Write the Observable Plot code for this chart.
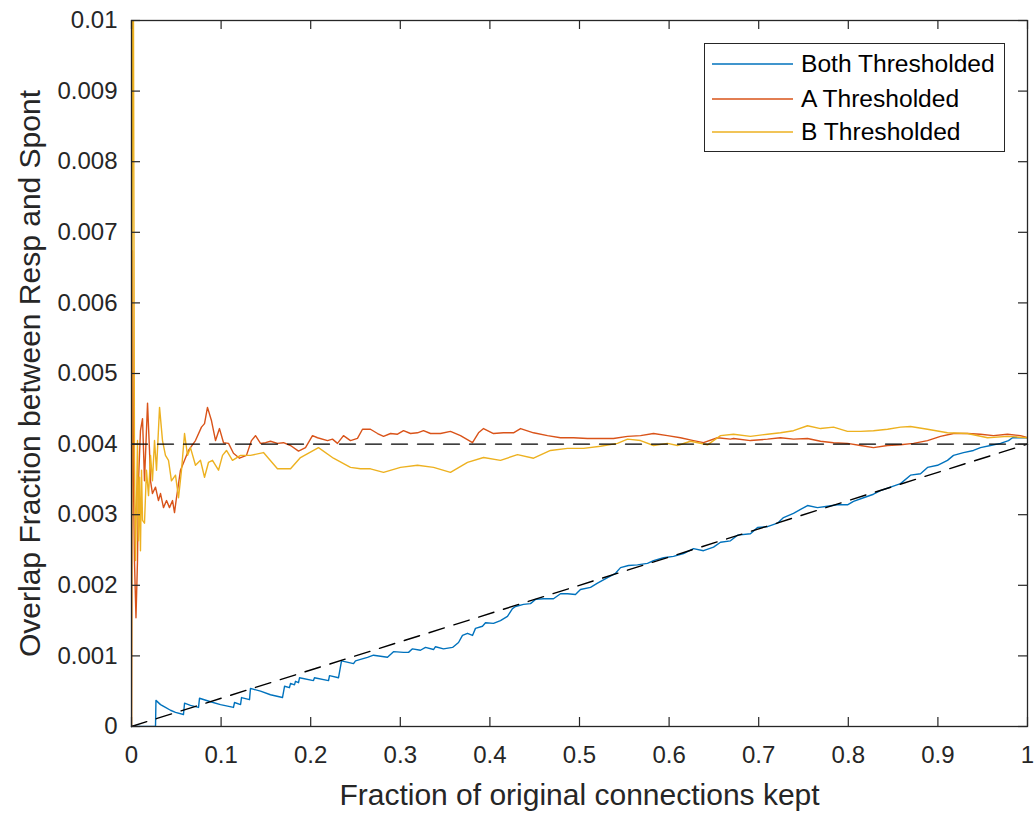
<!DOCTYPE html>
<html>
<head>
<meta charset="utf-8">
<script src="https://cdn.jsdelivr.net/npm/d3@7"></script>
<script src="https://cdn.jsdelivr.net/npm/@observablehq/plot@0.6"></script>
<style>
  html, body { margin: 0; padding: 0; background: #fff; }
  #wrap { position: relative; width: 1036px; height: 817px; font-family: "Liberation Sans", Arial, Helvetica, sans-serif; }
  #legend { position: absolute; left: 704px; top: 43px; width: 301px; height: 109px; border: 1px solid #262626; background: #fff; box-sizing: border-box; }
  .item { position: absolute; left: 7px; height: 30px; display: flex; align-items: center; font-size: 24.6px; color: #000; }
  .item svg { margin-right: 8px; }
</style>
</head>
<body>
<div id="wrap"></div>
<script>
// ---- data ----
const xTicks = [0, 0.1, 0.2, 0.3, 0.4, 0.5, 0.6, 0.7, 0.8, 0.9, 1];
const xTickLabels = ["0", "0.1", "0.2", "0.3", "0.4", "0.5", "0.6", "0.7", "0.8", "0.9", "1"];
const yTicks = [0, 0.001, 0.002, 0.003, 0.004, 0.005, 0.006, 0.007, 0.008, 0.009, 0.01];
const yTickLabels = ["0", "0.001", "0.002", "0.003", "0.004", "0.005", "0.006", "0.007", "0.008", "0.009", "0.01"];
const seriesNames = ["Both Thresholded", "A Thresholded", "B Thresholded"];
const seriesColors = ["#0072BD", "#D95319", "#EDB120"];
const xLabel = "Fraction of original connections kept";
const yLabel = "Overlap Fraction between Resp and Spont";

const refX = [0, 1];
const refFlat = [0.004, 0.004];
const refDiag = [0, 0.004];

const bothSeries = [
  [0,0],[0.0268,0],[0.0273,0.00037],[0.0324,0.00031],[0.0379,0.00027],[0.0435,0.00023],[0.0491,0.0002],[0.058,0.00017],
  [0.0592,0.00033],[0.0658,0.0003],[0.0748,0.00027],[0.0759,0.0004],[0.0882,0.00035],[0.0993,0.00031],[0.1138,0.00027],
  [0.115,0.00034],[0.1217,0.00031],[0.1228,0.00041],[0.1317,0.00038],[0.1328,0.00054],[0.144,0.0005],[0.1551,0.00045],
  [0.1685,0.00041],[0.1708,0.00057],[0.1763,0.00055],[0.1775,0.00061],[0.1819,0.00059],[0.183,0.00064],[0.1864,0.00062],
  [0.1875,0.00069],[0.2031,0.00065],[0.2042,0.00069],[0.2199,0.00065],[0.221,0.00072],[0.231,0.00069],[0.2344,0.00093],
  [0.2478,0.00089],[0.25,0.00093],[0.2556,0.00095],[0.2634,0.00098],[0.2701,0.00101],[0.2857,0.00098],[0.2924,0.00106],
  [0.3036,0.00105],[0.3092,0.00105],[0.3136,0.0011],[0.3225,0.00108],[0.3281,0.00112],[0.3371,0.00109],[0.3393,0.00113],
  [0.3482,0.0011],[0.3583,0.00112],[0.365,0.00119],[0.3694,0.00129],[0.375,0.00132],[0.3806,0.00129],[0.3839,0.00139],
  [0.3917,0.00142],[0.3951,0.00147],[0.404,0.00146],[0.4118,0.0015],[0.4196,0.00156],[0.4252,0.00167],[0.4286,0.0017],
  [0.4375,0.00173],[0.4453,0.00174],[0.4509,0.0018],[0.4598,0.00181],[0.471,0.00181],[0.4788,0.00188],[0.4866,0.00188],
  [0.4955,0.00187],[0.5011,0.00194],[0.5123,0.00197],[0.5201,0.00203],[0.5313,0.00211],[0.5402,0.00217],[0.5458,0.00225],
  [0.5547,0.00228],[0.5647,0.00229],[0.5759,0.00231],[0.5826,0.00235],[0.5938,0.00239],[0.6049,0.00241],[0.6161,0.00245],
  [0.6272,0.00252],[0.6384,0.00249],[0.6496,0.00254],[0.6574,0.00261],[0.6685,0.00263],[0.6763,0.00271],[0.6908,0.00273],
  [0.6987,0.00282],[0.7098,0.00283],[0.721,0.00288],[0.7277,0.00296],[0.7388,0.00302],[0.7545,0.00313],[0.7656,0.0031],
  [0.7768,0.00312],[0.7879,0.00314],[0.7991,0.00314],[0.8058,0.00319],[0.817,0.00324],[0.8281,0.00329],[0.8359,0.00334],
  [0.8471,0.00339],[0.8583,0.00344],[0.8694,0.00356],[0.8806,0.00358],[0.8884,0.00367],[0.8996,0.0037],[0.9107,0.00377],
  [0.9174,0.00384],[0.9286,0.00388],[0.9397,0.00391],[0.9475,0.00395],[0.9587,0.00398],[0.9699,0.00401],[0.9788,0.00405],
  [0.9833,0.00409],[0.9922,0.00409],[1.0,0.00409]
];

const aSeries = [
  [0,0],[0.0011,0.00674],[0.0022,0.00348],[0.0033,0.00235],[0.005,0.00154],[0.0067,0.00235],[0.0078,0.00348],[0.01,0.00419],
  [0.0123,0.00436],[0.0145,0.00348],[0.0179,0.00458],[0.0201,0.00391],[0.0212,0.00348],[0.0234,0.0033],[0.0268,0.00339],
  [0.0301,0.0032],[0.0324,0.0033],[0.0357,0.0031],[0.0391,0.0032],[0.0424,0.0031],[0.0458,0.0032],[0.048,0.00303],
  [0.0502,0.00324],[0.0525,0.00344],[0.0547,0.00363],[0.0592,0.00377],[0.0636,0.00391],[0.0714,0.00405],[0.0781,0.00424],
  [0.0815,0.00429],[0.0848,0.00452],[0.0893,0.00433],[0.0938,0.00405],[0.0982,0.00422],[0.1027,0.00402],[0.1083,0.00401],
  [0.1138,0.00387],[0.1205,0.0038],[0.1283,0.00384],[0.1339,0.00405],[0.1384,0.00412],[0.144,0.00401],[0.1496,0.00402],
  [0.1551,0.00404],[0.1629,0.00401],[0.1696,0.00402],[0.1775,0.00398],[0.1864,0.0039],[0.1942,0.00395],[0.202,0.00412],
  [0.2076,0.00409],[0.2188,0.00405],[0.2243,0.00407],[0.2299,0.00401],[0.2366,0.00412],[0.2444,0.00405],[0.2522,0.00408],
  [0.2578,0.00421],[0.2667,0.00421],[0.2746,0.00415],[0.2813,0.00411],[0.2891,0.00415],[0.2969,0.00414],[0.3036,0.00419],
  [0.3114,0.00415],[0.3192,0.00416],[0.3259,0.00419],[0.3337,0.00415],[0.3449,0.00415],[0.356,0.00418],[0.3672,0.00412],
  [0.3806,0.00402],[0.3873,0.00416],[0.3929,0.00422],[0.404,0.00415],[0.4152,0.00416],[0.4263,0.00416],[0.4342,0.00422],
  [0.4487,0.00416],[0.4643,0.00412],[0.4788,0.00409],[0.4933,0.00409],[0.5089,0.00408],[0.5234,0.00408],[0.5379,0.00408],
  [0.5536,0.00411],[0.5681,0.00412],[0.5826,0.00415],[0.5982,0.00412],[0.6127,0.00409],[0.6272,0.00405],[0.6384,0.00402],
  [0.654,0.00409],[0.6685,0.00407],[0.6719,0.00408],[0.6908,0.00405],[0.7098,0.00407],[0.7243,0.00409],[0.7388,0.00407],
  [0.7545,0.00408],[0.769,0.00404],[0.7835,0.00402],[0.7991,0.00401],[0.8136,0.00398],[0.8281,0.00395],[0.8438,0.00398],
  [0.8583,0.00399],[0.8728,0.00401],[0.8884,0.00405],[0.9029,0.00411],[0.9174,0.00415],[0.933,0.00415],[0.9475,0.00414],
  [0.962,0.00412],[0.9777,0.00414],[0.9922,0.00412],[1.0,0.00409]
];

const bSeries = [
  [0,0],[0.0011,0.01],[0.0022,0.01],[0.0028,0.0067],[0.0033,0.00377],[0.0045,0.00235],[0.0056,0.0032],[0.0067,0.00405],
  [0.0078,0.00263],[0.0089,0.00353],[0.01,0.00249],[0.0112,0.00363],[0.0123,0.00292],[0.0145,0.00288],[0.0167,0.00363],
  [0.019,0.00327],[0.0212,0.00384],[0.0234,0.00348],[0.0257,0.00405],[0.0279,0.00363],[0.0313,0.00452],[0.0346,0.00405],
  [0.0379,0.00384],[0.0413,0.00377],[0.0446,0.00348],[0.0491,0.00356],[0.0525,0.00324],[0.0558,0.00363],[0.0592,0.00415],
  [0.0625,0.00384],[0.0658,0.00395],[0.0714,0.0037],[0.077,0.00377],[0.0815,0.00353],[0.0859,0.00374],[0.0904,0.00377],
  [0.0971,0.00363],[0.1016,0.00384],[0.106,0.00391],[0.1127,0.00377],[0.1217,0.00384],[0.1328,0.00384],[0.1473,0.00388],
  [0.1629,0.00365],[0.1775,0.00365],[0.1886,0.00381],[0.2087,0.00395],[0.2254,0.0038],[0.2444,0.00367],[0.2556,0.00365],
  [0.2667,0.00365],[0.2813,0.0036],[0.3002,0.00367],[0.3192,0.0037],[0.3371,0.00367],[0.356,0.0036],[0.375,0.00374],
  [0.3929,0.00381],[0.4118,0.00377],[0.4308,0.00385],[0.4487,0.0038],[0.4676,0.00391],[0.4866,0.00394],[0.5045,0.00394],
  [0.5234,0.00397],[0.5424,0.00401],[0.5536,0.00407],[0.5681,0.00405],[0.5826,0.00398],[0.5982,0.00401],[0.6094,0.00398],
  [0.6239,0.00404],[0.6429,0.00399],[0.6574,0.00412],[0.6719,0.00414],[0.6908,0.00411],[0.7098,0.00414],[0.7243,0.00416],
  [0.7388,0.00419],[0.7545,0.00426],[0.769,0.00422],[0.7835,0.00424],[0.7991,0.00418],[0.8136,0.00418],[0.8281,0.00419],
  [0.8438,0.00421],[0.8583,0.00424],[0.8694,0.00425],[0.8884,0.00421],[0.9107,0.00416],[0.933,0.00415],[0.9554,0.00409],
  [0.9777,0.00411],[1.0,0.00409]
];

// ---- chart ----
const axisColor = "#262626";
const lineW = 1.4;
const refLine = refX.map((x, i) => ({x, flat: refFlat[i], diag: refDiag[i]}));

const chart = Plot.plot({
  width: 1036,
  height: 817,
  marginLeft: 131,
  marginRight: 9,
  marginTop: 20,
  marginBottom: 91,
  style: {fontFamily: "'Liberation Sans', Arial, Helvetica, sans-serif", background: "#fff", color: axisColor},
  x: {domain: [0, 1]},
  y: {domain: [0, 0.01]},
  marks: [
    Plot.line(bothSeries, {x: d => d[0], y: d => d[1], stroke: seriesColors[0], strokeWidth: lineW, clip: true}),
    Plot.line(aSeries, {x: d => d[0], y: d => d[1], stroke: seriesColors[1], strokeWidth: lineW, clip: true}),
    Plot.line(bSeries, {x: d => d[0], y: d => d[1], stroke: seriesColors[2], strokeWidth: lineW, clip: true}),
    Plot.line(refLine, {x: "x", y: "flat", stroke: "#000", strokeWidth: 1.4, strokeDasharray: "16,10"}),
    Plot.line(refLine, {x: "x", y: "diag", stroke: "#000", strokeWidth: 1.4, strokeDasharray: "16,10"}),
    // inward ticks on all four sides
    Plot.ruleX(xTicks, {stroke: axisColor, strokeWidth: 1.2, insetTop: 697}),
    Plot.ruleX(xTicks, {stroke: axisColor, strokeWidth: 1.2, insetBottom: 697}),
    Plot.ruleY(yTicks, {stroke: axisColor, strokeWidth: 1.2, insetRight: 887}),
    Plot.ruleY(yTicks, {stroke: axisColor, strokeWidth: 1.2, insetLeft: 887}),
    Plot.frame({stroke: axisColor, strokeWidth: 1.3}),
    Plot.axisX({ticks: xTicks, tickFormat: (d, i) => xTickLabels[i], tickSize: 0, tickPadding: 19, fontSize: 24, label: null, fill: axisColor}),
    Plot.axisY({ticks: yTicks, tickFormat: (d, i) => yTickLabels[i], tickSize: 0, tickPadding: 14, fontSize: 24, label: null, fill: axisColor}),
    Plot.text([xLabel], {frameAnchor: "bottom", dy: 78, fontSize: 30, fill: axisColor, textAnchor: "middle"}),
    Plot.text([yLabel], {frameAnchor: "left", dx: -101, rotate: -90, fontSize: 30, fill: axisColor, textAnchor: "middle"})
  ]
});

const wrap = document.getElementById("wrap");
wrap.appendChild(chart);

// legend (inside the axes, top right)
const legend = document.createElement("div");
legend.id = "legend";
const tops = [5, 40, 73];
seriesNames.forEach((name, i) => {
  const item = document.createElement("div");
  item.className = "item";
  item.style.top = tops[i] + "px";
  item.innerHTML = `<svg width="81" height="4"><line x1="0" y1="2" x2="81" y2="2" stroke="${seriesColors[i]}" stroke-width="1.5"/></svg><span>${name}</span>`;
  legend.appendChild(item);
});
wrap.appendChild(legend);
</script>
</body>
</html>
